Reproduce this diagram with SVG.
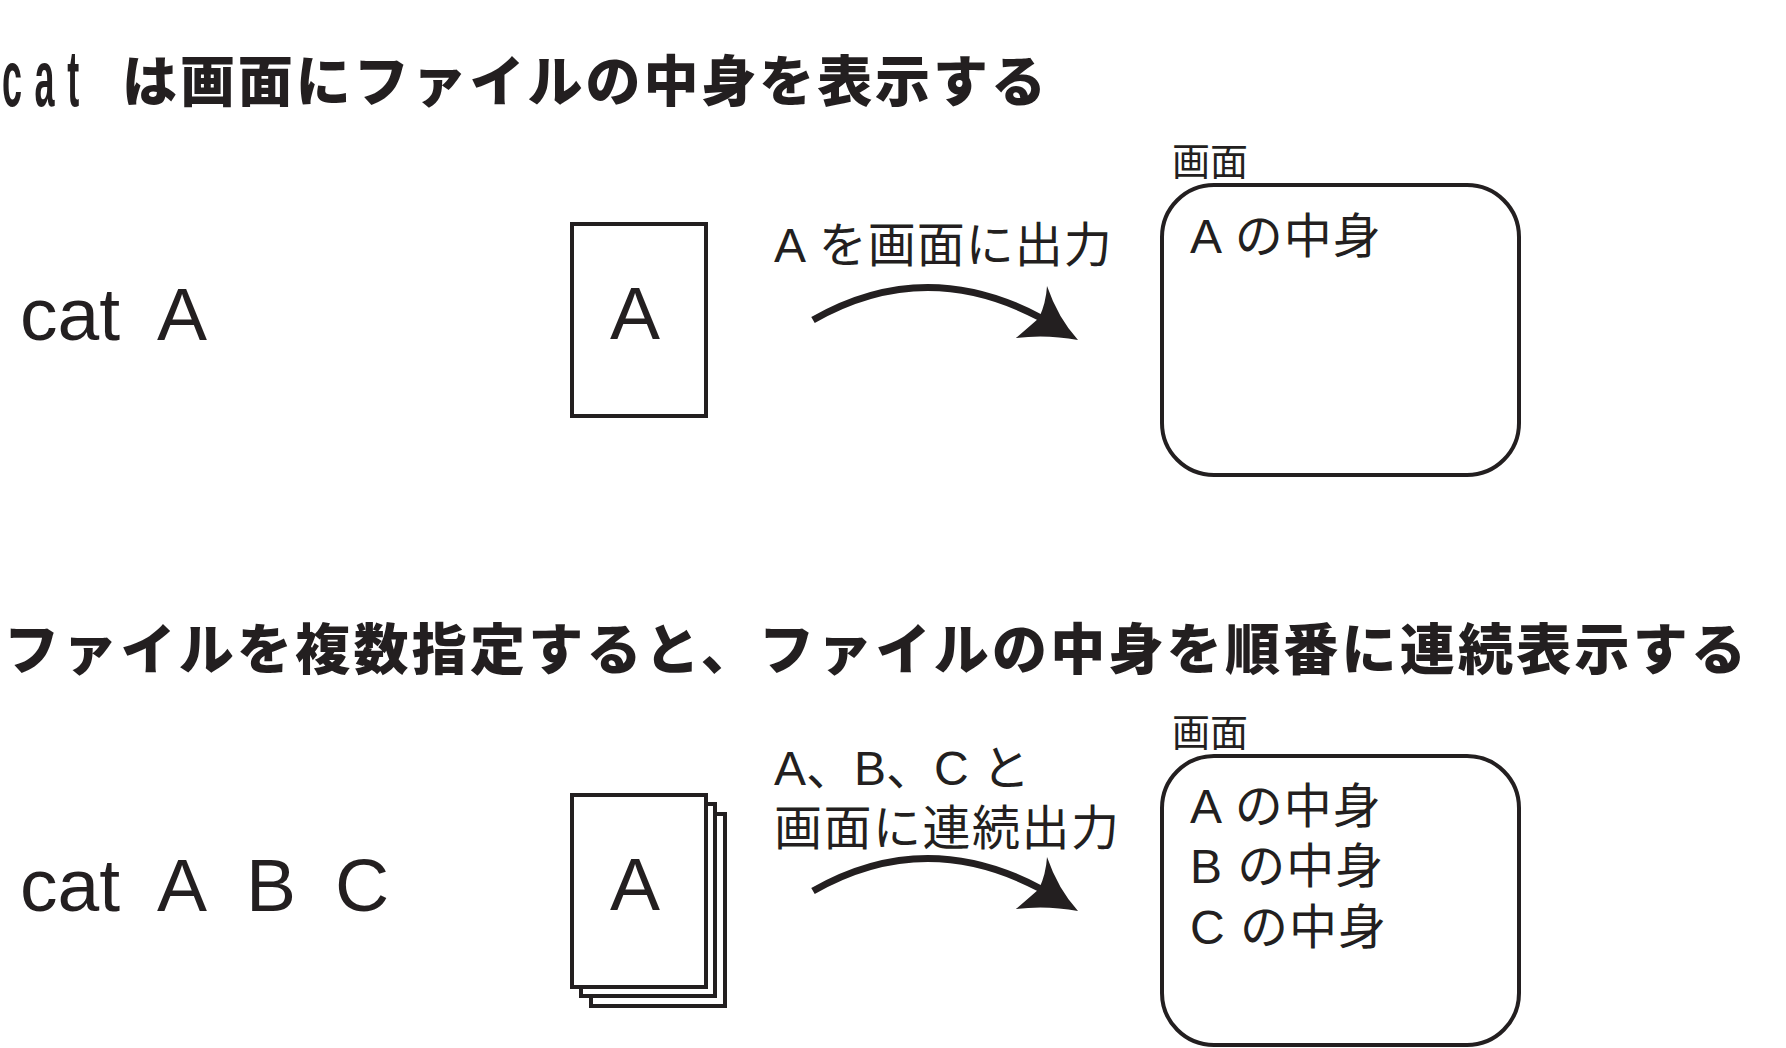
<svg xmlns="http://www.w3.org/2000/svg" width="1786" height="1048" viewBox="0 0 1786 1048">
<style>
.ttl{font-family:"Noto Sans CJK JP",sans-serif;font-weight:900;font-size:55px;fill:#231f20}
.cmd{font-family:"Liberation Sans",Arial,sans-serif;font-size:75px;fill:#231f20}
.lbl{font-family:"Liberation Sans","Noto Sans CJK JP",sans-serif;font-size:48px;fill:#231f20}
.cap{font-family:"Noto Sans CJK JP",sans-serif;font-size:38px;fill:#231f20}
.doc{fill:#fff;stroke:#231f20;stroke-width:4}
.scr{fill:#fff;stroke:#231f20;stroke-width:4}
.shaft{fill:none;stroke:#231f20;stroke-width:7}
.head{fill:#231f20}
</style>
<defs>
<g id="arrowShape">
<path class="shaft" d="M813,320 Q925,256 1041,318"/>
<path class="head" d="M1047,286 Q1058,318 1078,340 Q1046,334 1016,338 Q1030,326 1039,318 Q1046,303 1047,286 Z"/>
</g>
</defs>

<g id="title1">
<text transform="translate(2,106) scale(0.45,1)" font-family="Liberation Sans,Arial,sans-serif" font-weight="bold" font-size="80" letter-spacing="28" fill="#231f20">cat</text>
<text class="ttl" x="122" y="101" textLength="924" lengthAdjust="spacing">は画面にファイルの中身を表示する</text>
</g>

<g id="cmd1">
<text class="cmd" y="340"><tspan x="20">cat</tspan><tspan x="157">A</tspan></text>
</g>

<g id="file1">
<rect class="doc" x="572" y="224" width="134" height="192"/>
<text class="cmd" x="635" y="339" text-anchor="middle">A</text>
</g>

<g id="label1">
<text class="lbl" x="774" y="262" letter-spacing="1">A を画面に出力</text>
</g>

<g id="screen1">
<text class="cap" x="1172" y="175">画面</text>
<rect class="scr" x="1162" y="185" width="357" height="290" rx="52" ry="52"/>
<text class="lbl" x="1190" y="253" letter-spacing="1">A の中身</text>
</g>

<g id="title2">
<text class="ttl" x="4" y="669" textLength="1742" lengthAdjust="spacing">ファイルを複数指定すると、ファイルの中身を順番に連続表示する</text>
</g>

<g id="cmd2">
<text class="cmd" y="911"><tspan x="20">cat</tspan><tspan x="157">A</tspan><tspan x="246">B</tspan><tspan x="335">C</tspan></text>
</g>

<g id="files2">
<rect class="doc" x="591" y="814" width="134" height="192"/>
<rect class="doc" x="581" y="804" width="134" height="192"/>
<rect class="doc" x="572" y="795" width="134" height="192"/>
<text class="cmd" x="635" y="910" text-anchor="middle">A</text>
</g>

<g id="label2">
<text class="lbl" x="774" y="785">A、B、C と</text>
<text class="lbl" x="774" y="845" letter-spacing="1.5">画面に連続出力</text>
</g>

<g id="screen2">
<text class="cap" x="1172" y="746">画面</text>
<rect class="scr" x="1162" y="756" width="357" height="289" rx="52" ry="52"/>
<text class="lbl" x="1190" y="823" letter-spacing="1">A の中身</text>
<text class="lbl" x="1190" y="883" letter-spacing="1">B の中身</text>
<text class="lbl" x="1190" y="944" letter-spacing="1">C の中身</text>
</g>

<g id="connectors">
<use href="#arrowShape"/>
<use href="#arrowShape" transform="translate(0,571)"/>
</g>
</svg>
